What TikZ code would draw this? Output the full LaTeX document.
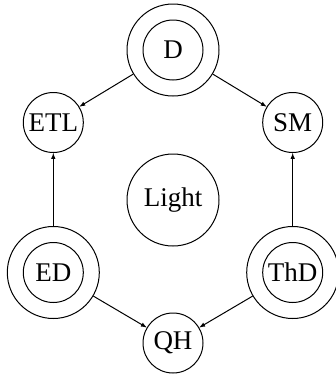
\documentclass[tikz,border=0pt]{standalone}
\usepackage{fontspec}
\setmainfont{Liberation Serif}
\usetikzlibrary{arrows}

\begin{document}
\begin{tikzpicture}[x=1pt,y=-1pt]
			\tikzstyle{State}	= [circle, draw, line width=1pt, minimum size=60pt, inner sep=0pt, font=\fontsize{27}{30}\selectfont]
			\tikzstyle{Big}		= [State, minimum size=92pt]
			\tikzstyle{Ring}	= [circle, draw, line width=1pt, minimum size=92pt, inner sep=0pt]
			\tikzstyle{Edge}	= [->, >=latex, line width=1pt]
			
			\useasboundingbox (0,0) rectangle (335,375);
			\node (D) at (173, 50) [State] {D};
			\node (Dring) at (173, 50) [Ring] {};
			\node (ETL) at (53.3, 122.5) [State] {ETL};
			\node (SM) at (292.7, 122.5) [State] {SM};
			\node (Light) at (173, 200) [Big] {Light};
			\node (ED) at (53.3, 272.5) [State] {ED};
			\node (EDring) at (53.3, 272.5) [Ring] {};
			\node (ThD) at (292.7, 272.5) [State] {ThD};
			\node (ThDring) at (292.7, 272.5) [Ring] {};
			\node (QH) at (173, 343) [State] {QH};
			
			\draw [Edge] (Dring) to (ETL);
			\draw [Edge] (Dring) to (SM);
			\draw [Edge] (EDring) to (ETL);
			\draw [Edge] (ThDring) to (SM);
			\draw [Edge] (EDring) to (QH);
			\draw [Edge] (ThDring) to (QH);
		\end{tikzpicture}
\end{document}
